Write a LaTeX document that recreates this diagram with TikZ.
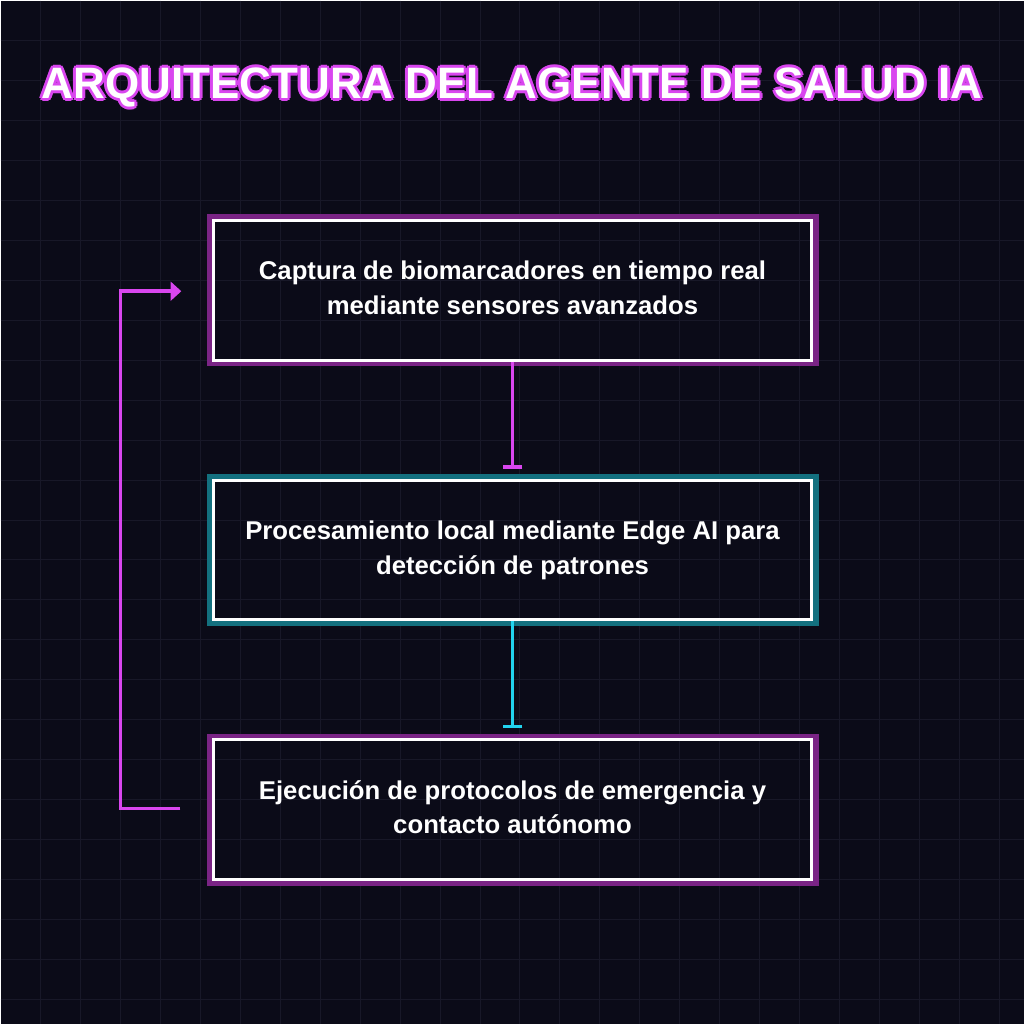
\documentclass[tikz,border=0pt]{standalone}
\usepackage{fontspec}
\setmainfont{Liberation Sans}
\usetikzlibrary{arrows.meta}
\definecolor{bg}{HTML}{0B0B18}
\definecolor{gridc}{HTML}{181828}
\definecolor{mag}{HTML}{D946EF}
\definecolor{magd}{HTML}{7A2485}
\definecolor{cya}{HTML}{22D3EE}
\definecolor{cyad}{HTML}{13707F}
\begin{document}
\begin{tikzpicture}[x=0.75pt,y=-0.75pt,
  stepbox/.style={draw=white,line width=3pt*0.75,minimum width=599*0.75pt,minimum height=140*0.75pt,inner sep=0pt,text=white,font=\fontsize{19.3}{26}\selectfont\bfseries,align=center},
  glowm/.style={draw=magd,line width=7pt*0.75},
  glowc/.style={draw=cyad,line width=7pt*0.75},
  conn/.style={line width=3.5pt*0.75},
  ttl/.style={font=\fontsize{33}{38}\selectfont\bfseries}]
\fill[bg] (0,0) rectangle (1024,1024);
\foreach \i in {40,80,...,1000}{\draw[gridc,line width=0.75pt] (\i,0)--(\i,1024); \draw[gridc,line width=0.75pt] (0,\i)--(1024,\i);}
\draw[glowm] (210.5,217.5) rectangle (815.5,362.5);
\draw[glowc] (210.5,477.5) rectangle (815.5,622.5);
\draw[glowm] (210.5,737.5) rectangle (815.5,882.5);
\node[stepbox] (a) at (512.5,290) {\raisebox{2pt}{\begin{tabular}{@{}c@{}}Captura de biomarcadores en tiempo real\\mediante sensores avanzados\end{tabular}}};
\node[stepbox] (b) at (512.5,550) {\raisebox{2pt}{\begin{tabular}{@{}c@{}}Procesamiento local mediante Edge AI para\\detección de patrones\end{tabular}}};
\node[stepbox] (c) at (512.5,810) {\raisebox{2pt}{\begin{tabular}{@{}c@{}}Ejecución de protocolos de emergencia y\\contacto autónomo\end{tabular}}};
\draw[conn,mag,-{Bar[width=15pt]}] (a.south) -- ([yshift=7.5pt]b.north);
\draw[conn,cya,-{Bar[width=15pt]}] (b.south) -- ([yshift=7.5pt]c.north);
\coordinate (s) at (180,809);
\coordinate (e) at (181,291);
\draw[conn,mag,-{Triangle[length=8pt,width=14pt]}] (s) -- (120,809) -- (120,291) -- (e);
\foreach \dx/\dy in {3/0,-3/0,0/3,0/-3,2/2,2/-2,-2/2,-2/-2}
  \node[ttl,text=mag] at (512+\dx,87+\dy) {ARQUITECTURA DEL AGENTE DE SALUD IA};
\node[ttl,text=white] (t) at (512,87) {ARQUITECTURA DEL AGENTE DE SALUD IA};
\end{tikzpicture}
\end{document}
